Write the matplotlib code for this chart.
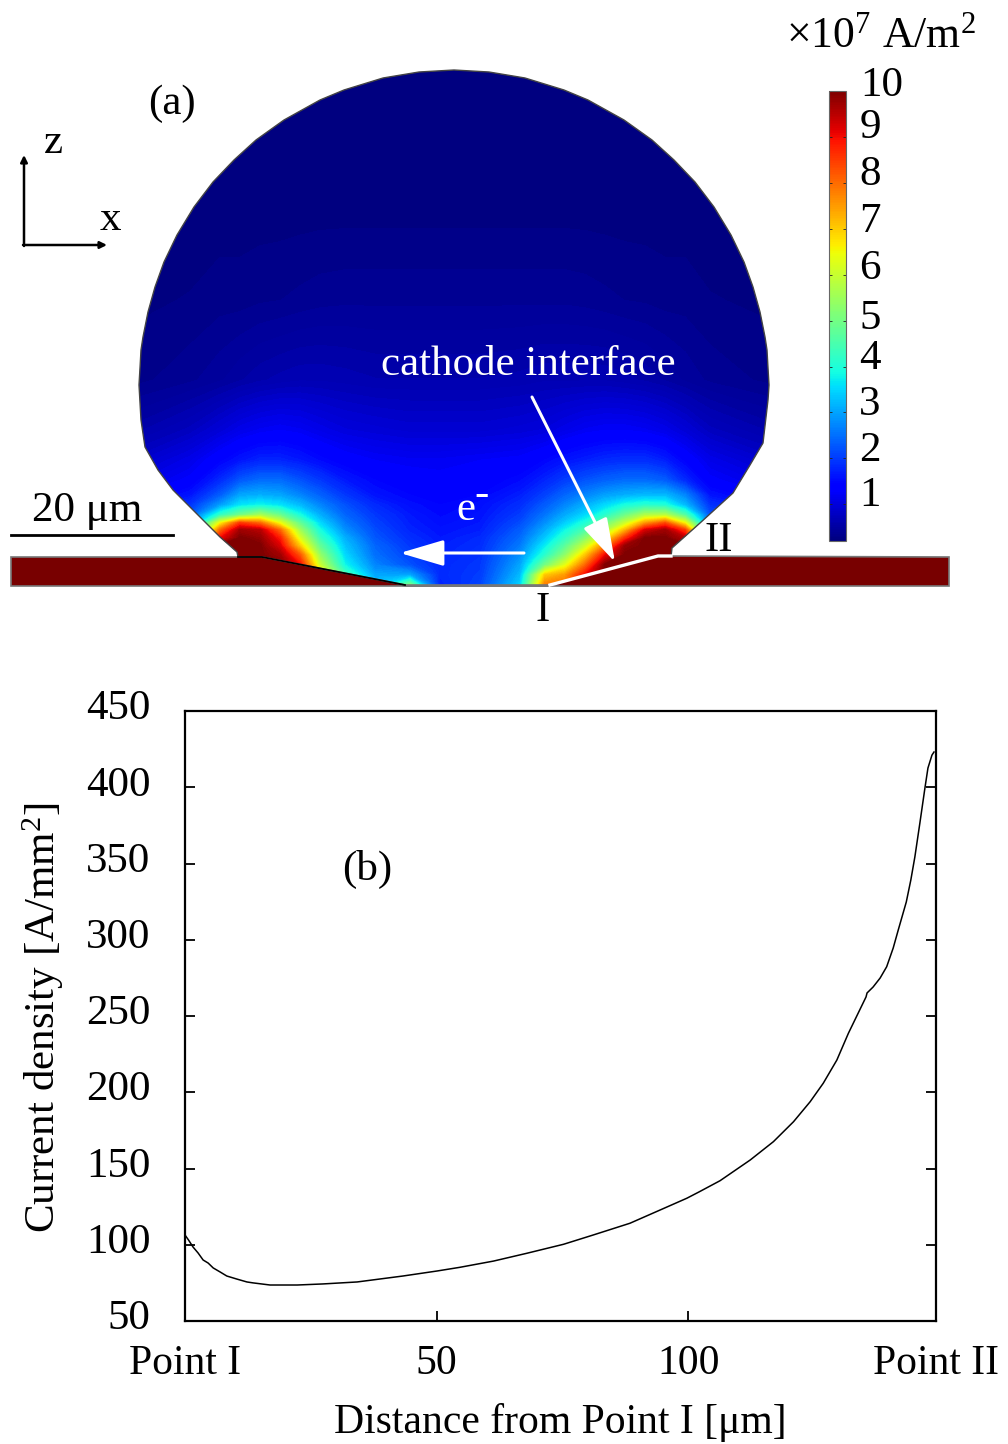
import matplotlib
matplotlib.use("Agg")
import matplotlib.pyplot as plt
import numpy as np
from matplotlib import cm
from matplotlib.colors import Normalize
from matplotlib.patches import Polygon
from matplotlib.transforms import ScaledTranslation

plt.rcParams["font.family"] = ["Liberation Serif", "DejaVu Serif"]
plt.rcParams["mathtext.fontset"] = "custom"
plt.rcParams["mathtext.rm"] = "Liberation Serif"
plt.rcParams["mathtext.default"] = "regular"

# (b) current density along the cathode interface
distance = [0, 0.7, 1.6, 2.6, 3.6, 4.6, 5.6, 7, 8.3, 10.3, 12.3, 13.5, 16.9, 22.3, 27.4, 34.2, 43.3, 50.1, 54.6,
            61.3, 67.9, 75.2, 81.1, 88.4, 94.4, 99.7, 102.1, 106.3, 112.3, 116.9, 120.9, 124.2, 126.8, 129.5,
            131.8, 135.3, 135.5, 136.7, 138.1, 139.4, 140.7, 141.7, 143.3, 144.2,
            145.0, 146.0, 147.0, 147.6, 148.4, 148.8]
density = [106.4, 103.1, 98.5, 94.6, 90, 88, 84.8, 82.1, 79.5, 77.5, 75.6, 75, 73.6, 73.6, 74.3, 75.6, 79.5, 82.8, 85.2,
           89.3, 94.4, 100.3, 106.4, 114.1, 122.8, 130.5, 134.6, 142, 155.6, 167.6, 180.7, 193.8, 205.9, 221.1,
           238.7, 262.5, 265.1, 269, 274.9, 282.3, 294.6, 306.4, 324.8, 339.2,
           354.3, 376.6, 399.5, 412.6, 421.1, 423.1]
y_ticks = [50, 100, 150, 200, 250, 300, 350, 400, 450]
x_ticks = [0, 50, 100, 149.2]
x_tick_labels = ["Point I", "50", "100", "Point II"]

field_x = [130, 190, 220, 240, 260, 280, 300, 320, 345, 375, 410, 440, 480, 520, 545, 565, 585, 605, 625, 645, 665, 685, 710, 780]
field_y = [60, 200, 300, 380, 430, 460, 480, 495, 505, 515, 523, 530, 538, 546, 555, 565, 575, 587]
field = [
    [.2] * 24,
    [.22] * 24,
    [.25, .27, .3, .3, .32, .33, .35, .37, .38, .38, .38, .38, .38, .38, .38, .38, .37, .35, .33, .32, .3, .3, .27, .25],
    [.3, .38, .45, .52, .58, .62, .65, .65, .63, .6, .6, .6, .6, .62, .65, .65, .65, .65, .62, .58, .52, .45, .38, .3],
    [.55, .75, .95, 1.1, 1.2, 1.25, 1.2, 1.1, 1.0, .95, .9, .9, .9, .95, 1.0, 1.1, 1.2, 1.25, 1.25, 1.2, 1.1, .95, .75, .55],
    [.8, 1.1, 1.4, 1.6, 1.75, 1.75, 1.65, 1.5, 1.35, 1.25, 1.2, 1.2, 1.25, 1.3, 1.45, 1.6, 1.7, 1.8, 1.85, 1.85, 1.7, 1.4, 1.1, .8],
    [1, 1.3, 1.8, 2.25, 2.45, 2.45, 2.2, 1.95, 1.65, 1.45, 1.35, 1.3, 1.35, 1.5, 1.75, 2, 2.2, 2.35, 2.45, 2.45, 2.3, 1.8, 1.3, 1],
    [1.2, 1.6, 2.3, 3, 3.1, 3, 2.7, 2.35, 1.95, 1.6, 1.45, 1.4, 1.45, 1.7, 2.05, 2.4, 2.7, 2.95, 3.1, 3.2, 3.2, 2.7, 1.6, 1.2],
    [1.4, 1.9, 2.9, 3.6, 3.8, 3.6, 3.2, 2.7, 2.2, 1.8, 1.55, 1.45, 1.55, 1.85, 2.3, 2.7, 3.1, 3.5, 3.9, 4.1, 4, 3.2, 1.9, 1.4],
    [1.6, 2.2, 4.2, 5, 5.6, 4.9, 3.9, 3.1, 2.4, 1.95, 1.65, 1.5, 1.6, 2, 2.55, 3.05, 3.5, 4.1, 4.9, 5.7, 5.8, 4.6, 2.2, 1.6],
    [2, 2.5, 6.5, 8.5, 8, 6.4, 4.8, 3.5, 2.6, 2.05, 1.7, 1.55, 1.65, 2.15, 2.8, 3.4, 4, 4.9, 6, 7.5, 8.3, 6.5, 2.5, 2],
    [2.5, 3, 8, 9.7, 9.5, 8, 5.5, 3.9, 2.8, 2.15, 1.75, 1.6, 1.7, 2.3, 3.05, 3.8, 4.5, 5.6, 7.2, 9.2, 9.7, 8.5, 3, 2.5],
    [3, 4, 9, 10, 9.8, 8.8, 6.2, 4.3, 3.1, 2.25, 1.85, 1.65, 1.8, 2.45, 3.35, 4.2, 5.2, 6.6, 8.6, 10, 10, 9.5, 4, 3],
    [4, 5, 10, 10, 10, 9.2, 7, 4.8, 3.3, 2.4, 1.95, 1.7, 1.85, 2.6, 3.7, 4.7, 6, 7.8, 9.8, 10, 10, 10, 5, 4],
    [5, 5, 10, 10, 10, 9.7, 8.2, 5.4, 3.5, 2.5, 2.05, 1.75, 1.9, 2.8, 4.1, 5.3, 7, 9, 10, 10, 10, 10, 5, 5],
    [5, 5, 10, 10, 10, 10, 9, 6, 3.8, 2.7, 2.2, 1.8, 1.95, 3, 5, 6.3, 8, 10, 10, 10, 10, 10, 5, 5],
    [5, 5, 10, 10, 10, 10, 10, 7, 4.5, 3, 3, 1.8, 2, 3.2, 7, 7.5, 9, 10, 10, 10, 10, 10, 5, 5],
    [5, 5, 10, 10, 10, 10, 10, 8, 5, 3.5, 5.5, 1.7, 2.1, 3.5, 8, 8, 10, 10, 10, 10, 10, 10, 5, 5],
]
cbar_ticks = [1, 2, 3, 4, 5, 6, 7, 8, 9]
cbar_labels = ["1", "2", "3", "4", "5", "6", "7", "8", "9", "10"]
cbar_label_y = [496, 451, 405, 359, 319, 269, 222, 175, 128, 86]

# outlines in image pixels
drop_outline = [(238, 557), (237, 552), (220, 537), (200, 517), (173, 490), (158, 470), (145, 447), (141, 420),
                (139, 385), (140, 368), (141, 350), (143, 337), (148, 312), (155, 287), (164, 262), (177, 235),
                (194, 207), (213, 182), (234, 160), (256, 140), (284, 120), (320, 100), (344, 90), (383, 78),
                (419, 72), (454, 70), (489, 72), (525, 78), (564, 90), (588, 100), (624, 120), (652, 140),
                (674, 160), (695, 182), (714, 207), (731, 235), (744, 262), (753, 287), (760, 312), (765, 337),
                (767, 350), (768, 368), (769, 385), (768, 400), (763, 443), (750, 465), (733, 493), (700, 523),
                (672, 548), (671, 557), (658, 556), (550, 586), (405, 586), (262, 558)]
pad_outline = [(11, 557), (262, 557), (405, 585), (550, 585), (658, 556), (949, 557), (949, 586), (11, 586)]
left_interface = [(238, 557), (262, 557), (405, 585)]
right_interface = [(550, 585), (658, 556), (671, 556)]

fig = plt.figure(figsize=(10.08, 14.44), dpi=100)
W, H = 1008, 1444


def px_axes(x0, y0, x1, y1):
    return fig.add_axes([x0 / W, 1 - y1 / H, (x1 - x0) / W, (y1 - y0) / H])


# Panel a
ax = fig.add_axes([0, 0, 1, 1], zorder=3)
ax.set_xlim(0, W)
ax.set_ylim(H, 0)
ax.axis("off")

levels = np.linspace(0.2, 10, 150)
cs = ax.contourf(field_x, field_y, field, levels=levels, cmap="jet", extend="both", antialiased=False)
drop = Polygon(drop_outline, closed=True, fc="none", ec="#444444", lw=1.0, zorder=2)
ax.add_patch(drop)
cs.set_clip_path(drop)
ax.add_patch(Polygon(pad_outline, closed=True, fc="#780000", ec="#777777", lw=1.2, zorder=3))
ax.plot(*zip(*left_interface), color="black", lw=1.3, zorder=4)
ax.plot(*zip(*right_interface), color="white", lw=2.4, zorder=4)

ax.plot([11, 173], [535, 535], color="black", lw=2)
ax.annotate("", xy=(24, 155), xytext=(24, 246), arrowprops=dict(arrowstyle="-|>", color="black", lw=1.8, shrinkA=0, shrinkB=0))
ax.annotate("", xy=(107, 245), xytext=(23, 245), arrowprops=dict(arrowstyle="-|>", color="black", lw=1.8, shrinkA=0, shrinkB=0))
ax.annotate("", xy=(400, 553), xytext=(524, 553),
            arrowprops=dict(arrowstyle="-|>,head_length=2.7,head_width=0.8", color="white", lw=2.2, shrinkA=0, shrinkB=0), zorder=5)
ax.annotate("", xy=(615, 562), xytext=(532, 397),
            arrowprops=dict(arrowstyle="-|>,head_length=2.7,head_width=0.8", color="white", lw=2.2, shrinkA=0, shrinkB=0), zorder=5)

fs = 31
texts = [("(a)", 172, 104, "black"), ("z", 53, 143, "black"), ("x", 110, 220, "black"),
         ("20 μm", 87, 511, "black"), ("cathode interface", 528, 365, "white"), ("e", 466, 510, "white"),
         ("-", 481, 495, "white"), ("II", 719, 541, "black"), ("I", 543, 611, "black"), ("(b)", 367, 869, "black")]
for s, x, y, c in texts:
    ax.text(x, y, s, color=c, fontsize=fs, ha="center", va="center", zorder=6)
ax.text(881, 36, "×10$^{7}$ A/m$^{2}$", fontsize=31.5, ha="center", va="center")
for s, y in zip(cbar_labels, cbar_label_y):
    ax.text(882 if s == "10" else 870, y, s, fontsize=fs, ha="center", va="center")

# colour bar
cax = px_axes(829, 91, 846, 541)
sm = cm.ScalarMappable(norm=Normalize(0.2, 10), cmap="jet")
cb = fig.colorbar(sm, cax=cax, ticks=cbar_ticks)
cb.ax.set_yticklabels([])
cb.ax.tick_params(direction="in", length=2, width=0.6, color="#222222", right=True, left=True)
cb.outline.set_edgecolor("#666666")
cb.outline.set_linewidth(0.8)

# Panel b
ax2 = px_axes(185, 711, 936, 1321)
ax2.plot(distance, density, color="black", lw=1.1)
ax2.set_xlim(0, 149.2)
ax2.set_ylim(50, 450)
ax2.set_xticks(x_ticks)
ax2.set_xticklabels(x_tick_labels)
ax2.set_yticks(y_ticks)
ax2.tick_params(direction="in", length=7.5, width=1.3, right=True)
ax2.tick_params(axis="x", pad=17, labelsize=30)
ax2.tick_params(axis="y", pad=25, labelsize=fs)
for s in ax2.spines.values():
    s.set_linewidth(1.6)
ax2.set_xlabel("Distance from Point I [μm]", fontsize=30, labelpad=14)
ax2.set_ylabel("Current density [A/mm$^{2}$]", fontsize=fs)
ax2.yaxis.set_label_coords(-0.158, 0.497)

# y labels sit a little above their ticks in the original
shift_up = ScaledTranslation(0, 0.065, fig.dpi_scale_trans)
for lab in ax2.get_yticklabels():
    lab.set_transform(lab.get_transform() + shift_up)

fig.savefig("out.png", dpi=100)
